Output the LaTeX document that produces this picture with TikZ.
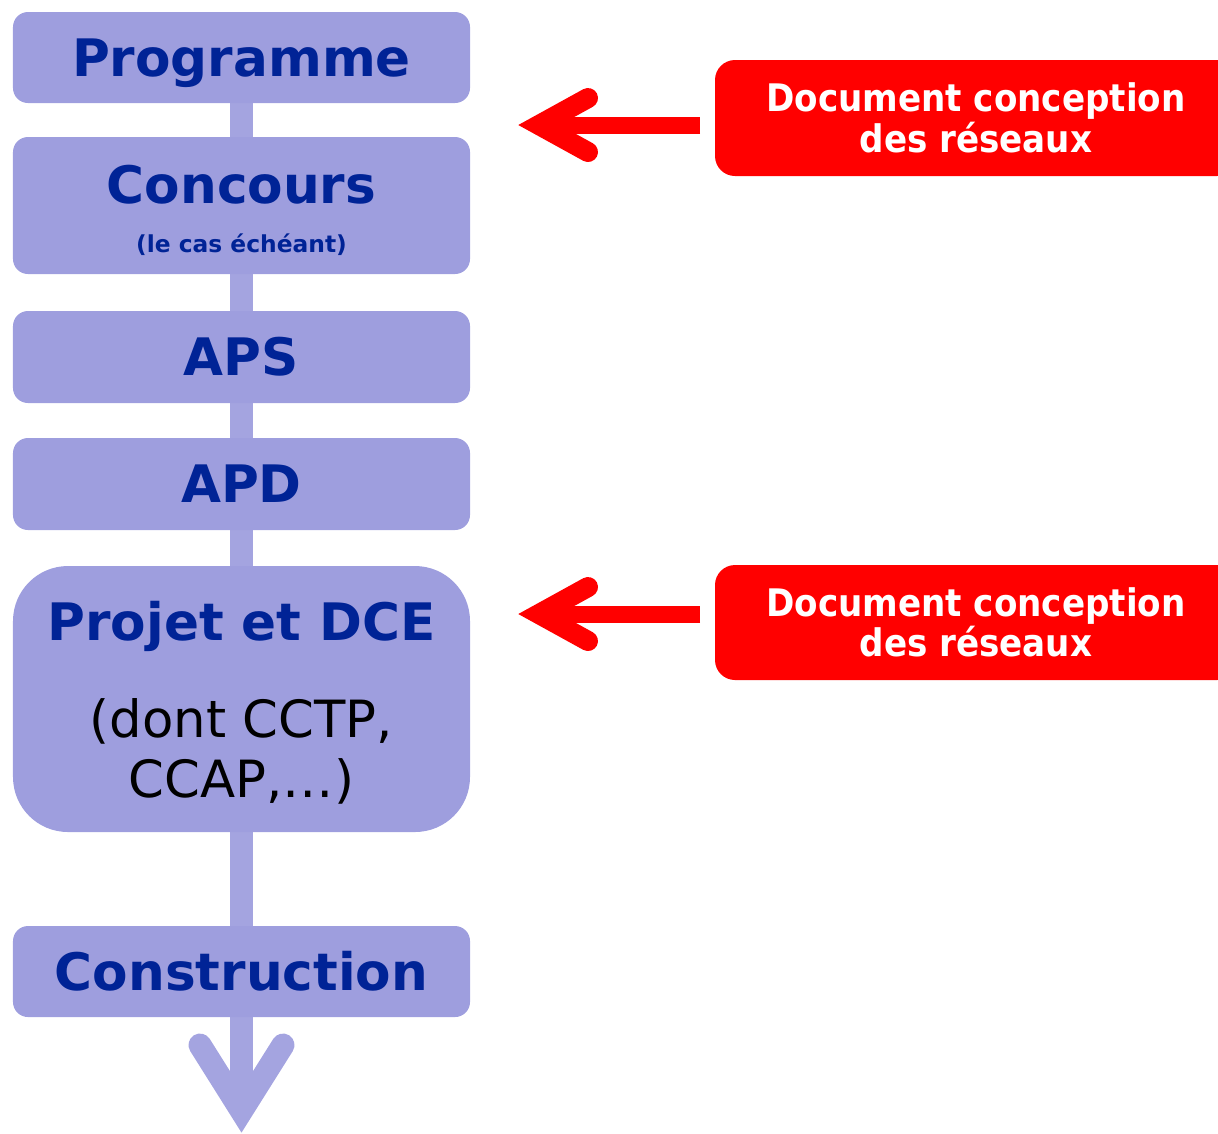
\documentclass[tikz,border=0pt]{standalone}
\usepackage{fontspec}
\setmainfont{DejaVu Sans}
\newfontfamily\condfont{DejaVu Sans Condensed}
\usetikzlibrary{positioning,backgrounds}

\definecolor{stagefill}{RGB}{158,158,222}
\definecolor{stageline}{RGB}{164,164,224}
\definecolor{stagetext}{RGB}{0,35,150}

\newcommand{\detail}{\mdseries\color{black}\fontsize{14.6}{17}\selectfont}

\begin{document}
\begin{tikzpicture}[node distance=0.35cm,
        stage/.style={rectangle, rounded corners=0.15cm, fill=stagefill,
            minimum width=4.57cm, minimum height=0.91cm, inner sep=0pt, outer sep=0pt,
            align=center, text=stagetext,
            font=\bfseries\fontsize{14.7}{17}\selectfont},
        oneline/.style={text height=10.7pt, text depth=0pt},
        note/.style={rectangle, rounded corners=0.2cm, fill=red, text=white,
            minimum width=5.22cm, minimum height=1.16cm, inner sep=0pt, outer sep=0pt,
            align=center, font=\condfont\bfseries\fontsize{10.8}{11.5}\selectfont},
        flow/.style={draw=stageline, line width=0.23cm},
        hint/.style={draw=red, line width=0.17cm},
        barb/.style={draw=red, line width=0.2cm, line cap=round, line join=miter}]
    \useasboundingbox (0,0) rectangle (12.18,-11.33);
    \clip (0,0) rectangle (12.18,-11.33);

    % the stages, top to bottom
    \node[stage, oneline] (prog) at (2.415,-0.575) {Programme};
    \node[stage, minimum height=1.37cm, text height=26.5pt, text depth=0pt] (conc) [below=0.34cm of prog]
        {Concours\\[-3.2pt]\fontsize{6.65}{17}\selectfont(le cas échéant)};
    \node[stage, oneline, minimum height=0.92cm] (aps) [below=0.37cm of conc] {APS};
    \node[stage, oneline, minimum height=0.92cm] (apd) [below=0.35cm of aps] {APD};
    \node[stage, minimum height=2.66cm, rounded corners=0.55cm, text depth=0pt] (proj) [below=0.36cm of apd]
        {Projet et DCE\\[10.6pt]\detail(dont CCTP,\\\detail CCAP,…)};
    \node[stage, oneline] (constr) [below=0.94cm of proj] {Construction};

    % the network documents
    \node[note] (doc1) at (9.76,-1.18) {Document conception\\des réseaux};
    \node[note, minimum height=1.15cm] (doc2) at (9.76,-6.225) {Document conception\\des réseaux};

    % spine and bottom arrow
    \coordinate (v) at (2.415,-11.11);
    \begin{scope}[on background layer]
        \draw[flow] (prog) -- (constr);
        \draw[flow] (constr.south) -- (v);
        \draw[flow, line cap=round, line join=miter] (v) ++(-0.415,0.66) -- (v) -- ++(0.415,0.66);
    \end{scope}

    % red arrows
    \coordinate (s1) at (7.00,-1.25);
    \coordinate (t1) at (5.39,-1.25);
    \coordinate (s2) at (7.00,-6.14);
    \coordinate (t2) at (5.39,-6.14);
    \draw[hint] (s1) -- (t1);
    \draw[barb] (t1) ++(0.49,0.27) -- (t1) -- ++(0.49,-0.27);
    \draw[hint] (s2) -- (t2);
    \draw[barb] (t2) ++(0.49,0.27) -- (t2) -- ++(0.49,-0.27);
\end{tikzpicture}
\end{document}
